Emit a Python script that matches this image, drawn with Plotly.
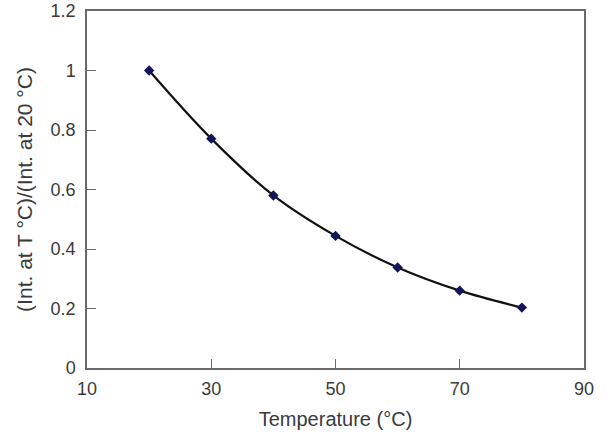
import plotly.graph_objects as go

temperature = [20, 30, 40, 50, 60, 70, 80]
ratio = [1.0, 0.771, 0.580, 0.444, 0.338, 0.260, 0.203]

x_ticks = [10, 30, 50, 70, 90]
y_ticks = [0, 0.2, 0.4, 0.6, 0.8, 1.0, 1.2]
y_tick_text = ["0", "0.2", "0.4", "0.6", "0.8", "1", "1.2"]

font_family = "Liberation Sans, Arial"

fig = go.Figure()
fig.add_trace(go.Scatter(
    x=temperature, y=ratio,
    mode="lines",
    line=dict(color="#111111", width=2.2, shape="spline", smoothing=1.0),
    hoverinfo="skip",
))
fig.add_trace(go.Scatter(
    x=temperature, y=ratio,
    mode="markers",
    marker=dict(symbol="diamond", size=8, color="#14145a"),
))

axis_common = dict(
    showgrid=False, zeroline=False, automargin=False,
    showline=True, linecolor="#6a6a6a", linewidth=1.5, mirror=True,
    ticks="inside", ticklen=9, tickcolor="#6a6a6a", tickwidth=1.2,
    tickfont=dict(family=font_family, size=18, color="#3a3a3a"),
)

fig.update_layout(
    width=615, height=435,
    margin=dict(l=87, r=31, t=11, b=67),
    paper_bgcolor="white", plot_bgcolor="white",
    showlegend=False,
    xaxis=dict(
        range=[10, 90], tickvals=x_ticks,
        title=dict(text="Temperature (°C)", font=dict(family=font_family, size=20, color="#3a3a3a"), standoff=14),
        ticklabelstandoff=4,
        **axis_common,
    ),
    yaxis=dict(
        range=[0, 1.2], tickvals=y_ticks, ticktext=y_tick_text,
        title=dict(text="(Int. at T °C)/(Int. at 20 °C)", font=dict(family=font_family, size=21, color="#3a3a3a"), standoff=12),
        ticklabelstandoff=6,
        **axis_common,
    ),
)

fig.write_html("out.html")
